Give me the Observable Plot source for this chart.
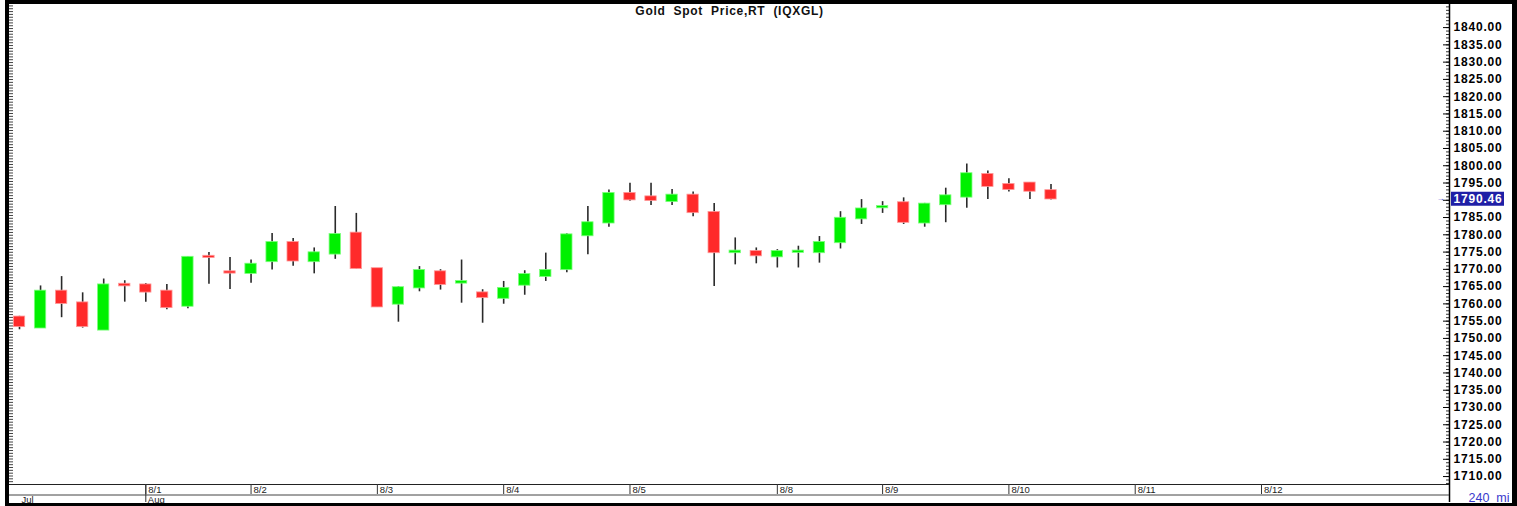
<!DOCTYPE html>
<html>
<head>
<meta charset="utf-8">
<script src="https://cdn.jsdelivr.net/npm/d3@7"></script>
<script src="https://cdn.jsdelivr.net/npm/@observablehq/plot@0.6"></script>
<style>
  html, body { margin: 0; padding: 0; background: #fff; }
  #wrap { position: relative; width: 1517px; height: 506px; overflow: hidden; }
  #border { position: absolute; left: 5px; top: 0; right: 0; bottom: 0;
            border-top: 4px solid #000; border-left: 4px solid #000;
            border-right: 5px solid #000; border-bottom: 3px solid #000;
            pointer-events: none; }
  .ylab text, .lastp text, .ylab, .lastp { letter-spacing: 0.8px; }
  .ttl text, .ttl { letter-spacing: 0.7px; }
</style>
</head>
<body>
<div id="wrap"><div id="border"></div></div>
<script>
// 4-hour candles, Gold Spot Price (IQXGL)
const open  = [1756.1,1753.1,1763.6,1760.2,1752.5,1765.6,1765.4,1763.6,1759.4,1773.7,1769.2,1768.9,1772.3,1777.7,1772.3,1774.5,1780.4,1770.1,1760.0,1764.7,1769.2,1766.1,1763.1,1761.7,1765.5,1768.0,1770.0,1779.8,1783.5,1791.9,1790.9,1789.7,1791.4,1786.4,1774.9,1775.1,1773.7,1775.0,1774.9,1777.8,1784.7,1787.9,1789.2,1783.5,1788.8,1791.0,1797.4,1794.5,1794.9,1792.7];
const high  = [1756.4,1765.2,1767.9,1763.2,1767.2,1766.7,1765.9,1765.6,1773.6,1774.9,1773.4,1772.7,1780.4,1778.9,1776.2,1788.2,1786.2,1770.2,1765.0,1770.8,1769.9,1772.7,1764.1,1766.5,1769.6,1774.7,1780.3,1788.2,1793.0,1794.9,1794.9,1793.1,1792.4,1789.1,1779.1,1776.2,1775.7,1776.7,1779.5,1786.7,1790.2,1789.6,1790.7,1789.1,1793.5,1800.5,1798.5,1796.2,1795.1,1794.6];
const low   = [1752.5,1752.9,1756.0,1753.0,1752.3,1760.5,1760.5,1758.3,1758.6,1765.7,1764.2,1766.0,1769.8,1770.9,1768.7,1772.9,1770.1,1759.1,1754.7,1763.5,1764.0,1760.2,1754.4,1759.9,1762.5,1766.5,1769.0,1774.2,1782.2,1789.7,1788.5,1788.5,1785.2,1765.0,1771.3,1771.6,1770.4,1770.4,1771.8,1775.9,1783.0,1786.2,1783.0,1782.2,1783.5,1787.7,1790.2,1792.4,1790.2,1790.1];
const close = [1753.5,1763.6,1760.2,1753.5,1765.4,1765.3,1763.5,1759.0,1773.4,1773.5,1769.0,1771.4,1777.7,1772.5,1774.7,1780.0,1770.3,1759.2,1764.6,1769.6,1765.7,1766.4,1761.9,1764.4,1768.4,1769.6,1779.9,1783.4,1791.9,1790.2,1790.0,1791.4,1786.5,1774.9,1775.2,1774.0,1775.1,1775.2,1777.7,1784.7,1787.4,1788.1,1783.7,1788.8,1791.2,1797.6,1794.1,1793.2,1792.7,1790.46];

// day boundaries (candle slot index) and labels
const dayLabels = ["8/1","8/2","8/3","8/4","8/5","8/8","8/9","8/10","8/11","8/12"];
const dayIndex  = [6, 11, 17, 23, 29, 36, 41, 47, 53, 59];
const monthLabels = ["Jul","Aug"];
const monthIndex  = [0, 6];
const priceTicks = d3.range(1710, 1841, 5);
const title = "Gold\u00a0\u00a0Spot\u00a0\u00a0Price,RT\u00a0\u00a0(IQXGL)";
const intervalLabel = "240\u00a0\u00a0mi";

const candles = open.map((o, i) => ({i, open: o, high: high[i], low: low[i], close: close[i]}));
const last = candles[candles.length - 1];
// tick labels hidden behind the current-price box
const labelTicks = priceTicks.filter(t => Math.abs(t - last.close) > 2.5);

const W = 1517, H = 506, mL = 9, mR = 68, mT = 5, mB = 22;
const plotW = W - mL - mR, plotH = H - mT - mB;
const xDomain = [-0.475, 67.93];
const yDomain = [1707.7, 1846.4];
const RED = "#ff2a2a", GREEN = "#00f000";
const half = 0.27;

const chart = Plot.plot({
  width: W, height: H,
  marginLeft: mL, marginRight: mR, marginTop: mT, marginBottom: mB,
  x: {type: "linear", domain: xDomain, axis: null},
  y: {type: "linear", domain: yDomain, axis: null},
  style: {fontFamily: "'Liberation Sans', Arial, sans-serif", background: "#fff", overflow: "visible"},
  marks: [
    // left ruler ticks
    Plot.tickY(d3.range(yDomain[0], yDomain[1], 0.82), {y: d => d, stroke: "#444", strokeWidth: 1, insetRight: plotW - 4}),
    // right axis minor / major ticks (inward)
    Plot.tickY(d3.range(1708, 1847, 1), {y: d => d, stroke: "#333", strokeWidth: 1, insetLeft: plotW - 3}),
    Plot.tickY(priceTicks, {y: d => d, stroke: "#000", strokeWidth: 1, insetLeft: plotW - 6}),
    // right axis line extended into the date band
    Plot.ruleX([xDomain[1]], {stroke: "#000", strokeWidth: 1.5, insetTop: -2, insetBottom: -18}),
    // bottom of plot + date band line
    Plot.ruleY([yDomain[0]], {stroke: "#222", strokeWidth: 1}),
    Plot.ruleY([yDomain[0]], {stroke: "#444", strokeWidth: 1, dy: 10.5}),
    // day separators
    Plot.ruleX(dayIndex, {x: d => d, stroke: "#333", strokeWidth: 1, insetTop: plotH, insetBottom: -10}),
    Plot.ruleX([monthIndex[1]], {x: d => d, stroke: "#333", strokeWidth: 1, insetTop: plotH, insetBottom: -18}),
    Plot.text(dayLabels, {x: (d, i) => dayIndex[i], text: d => d, frameAnchor: "bottom", dy: 5.5, dx: 2.5,
      textAnchor: "start", lineAnchor: "middle", fontSize: 9.5, fill: "#222"}),
    Plot.text(monthLabels, {x: (d, i) => monthIndex[i], text: d => d, frameAnchor: "bottom", dy: 15, dx: 2,
      textAnchor: "start", lineAnchor: "middle", fontSize: 9.5, fill: "#222"}),
    // wicks
    Plot.ruleX(candles, {x: "i", y1: "low", y2: "high", stroke: "#2a2a2a", strokeWidth: 1.6}),
    // bodies
    Plot.rect(candles, {
      x1: d => d.i - half, x2: d => d.i + half, y1: "open", y2: "close",
      fill: d => d.close >= d.open ? GREEN : RED,
      stroke: d => d.close >= d.open ? "#7dff7d" : "#ff9a9a", strokeWidth: 0.8,
      insetTop: -0.8, insetBottom: -0.8
    }),
    // price axis labels
    Plot.axisY(labelTicks, {anchor: "right", tickSize: 0, tickPadding: 4, label: null, className: "ylab",
      tickFormat: d => d.toFixed(2), fontWeight: "bold", fontSize: 12, fill: "#000"}),
    // current price marker
    Plot.tickY([last], {y: "close", stroke: "#1f1fa6", strokeWidth: 14, insetLeft: plotW + 2, insetRight: -55}),
    Plot.text([last], {y: "close", text: d => d.close.toFixed(2), frameAnchor: "right", dx: 4, className: "lastp",
      textAnchor: "start", fill: "#fff", fontWeight: "bold", fontSize: 12}),
    Plot.text([last], {y: "close", text: () => "\u2192", frameAnchor: "right", dx: -9,
      textAnchor: "middle", fill: "#3a3ad0", fontSize: 8}),
    // title
    Plot.text([title], {text: d => d, frameAnchor: "top", dy: 6, lineAnchor: "middle", className: "ttl",
      fontWeight: "bold", fontSize: 12, fill: "#111"}),
    // interval label
    Plot.text([intervalLabel], {text: d => d, frameAnchor: "bottom-right", dx: 19, dy: 13,
      textAnchor: "start", lineAnchor: "middle", fontSize: 12.5, fill: "#3a3acc"})
  ]
});
document.getElementById("wrap").prepend(chart);
</script>
</body>
</html>
